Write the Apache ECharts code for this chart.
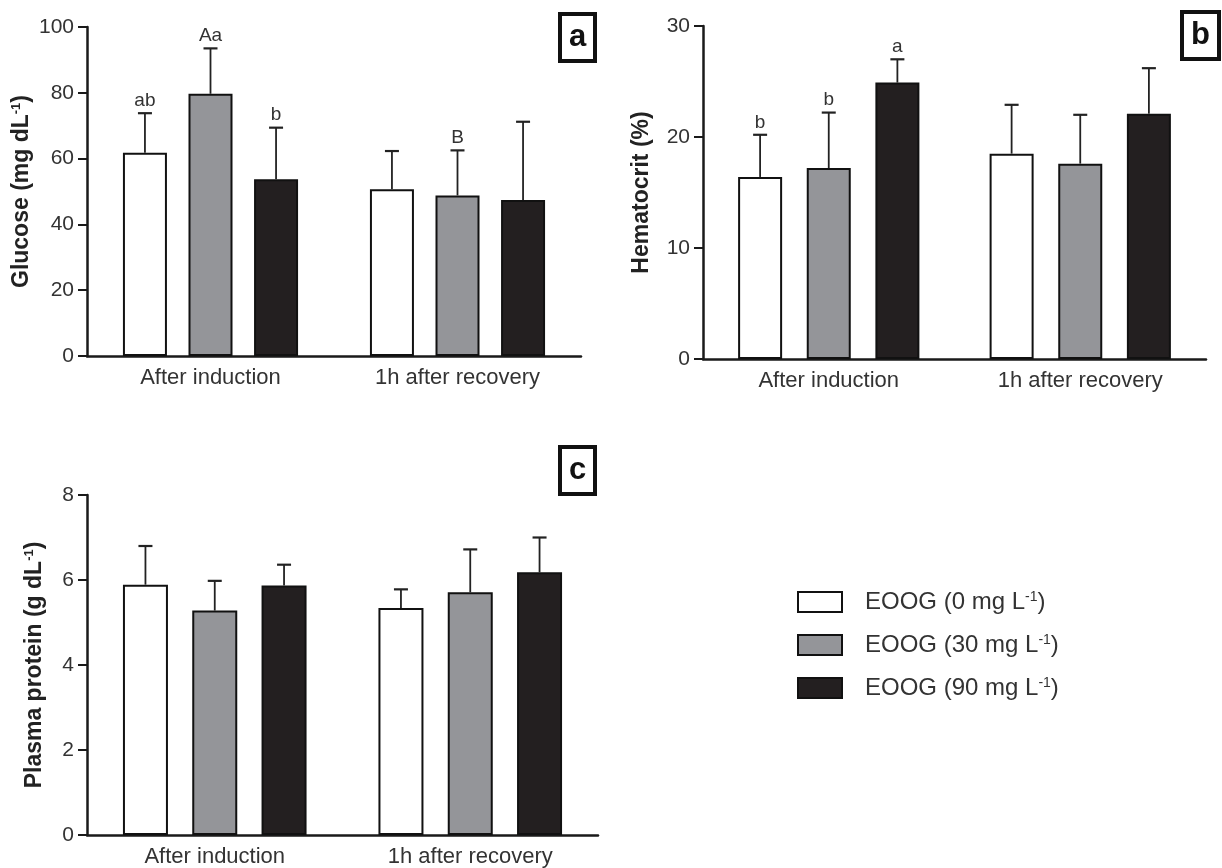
<!DOCTYPE html>
<html><head><meta charset="utf-8">
<script src="https://cdn.jsdelivr.net/npm/echarts@6/dist/echarts.min.js"></script>
<style>html,body{margin:0;padding:0;background:#fff}#c{width:1222px;height:868px}</style>
</head><body><div id="c"></div>
<script>
// ---------------- data ----------------
const categories = ['After induction', '1h after recovery'];
const groupNames = ['EOOG (0 mg L-1)', 'EOOG (30 mg L-1)', 'EOOG (90 mg L-1)'];

const glucoseTicks = [0, 20, 40, 60, 80, 100];
const glucose0 = [61.8, 50.7];
const glucose30 = [79.7, 48.8];
const glucose90 = [53.7, 47.4];
const glucose0Sd = [12.0, 11.6];
const glucose30Sd = [13.8, 13.7];
const glucose90Sd = [15.7, 23.8];
const glucose0Letters = ['ab', ''];
const glucose30Letters = ['Aa', 'B'];
const glucose90Letters = ['b', ''];

const hematocritTicks = [0, 10, 20, 30];
const hematocrit0 = [16.4, 18.5];
const hematocrit30 = [17.2, 17.6];
const hematocrit90 = [24.9, 22.1];
const hematocrit0Sd = [3.8, 4.4];
const hematocrit30Sd = [5.0, 4.4];
const hematocrit90Sd = [2.1, 4.1];
const hematocrit0Letters = ['b', ''];
const hematocrit30Letters = ['b', ''];
const hematocrit90Letters = ['a', ''];

const proteinTicks = [0, 2, 4, 6, 8];
const protein0 = [5.89, 5.34];
const protein30 = [5.28, 5.71];
const protein90 = [5.87, 6.18];
const protein0Sd = [0.91, 0.44];
const protein30Sd = [0.70, 1.01];
const protein90Sd = [0.49, 0.82];

// ---------------- style / layout ----------------
const FONT = '"Liberation Sans", Arial, Helvetica, sans-serif';
const fills = ['#ffffff', '#949599', '#231f20'];
const INK = '#1a1a1a';

const panels = [
  { grid: {left: 87, top: 27, width: 494, height: 329}, ticks: glucoseTicks,
    means: [glucose0, glucose30, glucose90], sds: [glucose0Sd, glucose30Sd, glucose90Sd],
    letters: [glucose0Letters, glucose30Letters, glucose90Letters],
    name: '{n|Glucose (mg dL}{s|-1}{n|)}', nameGap: 54, barW: 44, gap: 0.49 },
  { grid: {left: 703, top: 26, width: 503, height: 333}, ticks: hematocritTicks,
    means: [hematocrit0, hematocrit30, hematocrit90], sds: [hematocrit0Sd, hematocrit30Sd, hematocrit90Sd],
    letters: [hematocrit0Letters, hematocrit30Letters, hematocrit90Letters],
    name: '{n|Hematocrit (%)}', nameGap: 50, barW: 44, gap: 0.56 },
  { grid: {left: 87, top: 495, width: 511, height: 340}, ticks: proteinTicks,
    means: [protein0, protein30, protein90], sds: [protein0Sd, protein30Sd, protein90Sd],
    letters: null,
    name: '{n|Plasma protein (g dL}{s|-1}{n|)}', nameGap: 41, barW: 45, gap: 0.54 }
];

const grids = [], xAxes = [], yAxes = [], series = [];

panels.forEach((p, gi) => {
  grids.push(Object.assign({containLabel: false}, p.grid));
  xAxes.push({
    type: 'category', gridIndex: gi, data: categories,
    axisLine: {lineStyle: {color: INK, width: 2.5}},
    axisTick: {show: false},
    axisLabel: {fontSize: 22, color: '#333', fontFamily: FONT, margin: 11}
  });
  yAxes.push({
    type: 'value', gridIndex: gi,
    min: p.ticks[0], max: p.ticks[p.ticks.length - 1], interval: p.ticks[1] - p.ticks[0],
    axisLine: {show: true, lineStyle: {color: INK, width: 2.5}},
    axisTick: {show: true, length: 9, lineStyle: {color: INK, width: 2}},
    axisLabel: {fontSize: 21, color: '#333', fontFamily: FONT, margin: 13},
    splitLine: {show: false},
    name: p.name, nameLocation: 'middle', nameRotate: 90, nameGap: p.nameGap,
    nameTextStyle: {
      rich: {
        n: {fontSize: 23, fontWeight: 'bold', color: '#222', fontFamily: FONT},
        s: {fontSize: 13, fontWeight: 'bold', color: '#222', fontFamily: FONT, verticalAlign: 'top'}
      }
    }
  });
  p.means.forEach((m, s) => {
    series.push({
      type: 'bar', name: groupNames[s], xAxisIndex: gi, yAxisIndex: gi,
      data: m, barWidth: p.barW, barGap: (p.gap * 100) + '%',
      itemStyle: {color: fills[s], borderColor: '#111', borderWidth: 2},
      emphasis: {disabled: true}
    });
  });
  const data = [];
  p.means.forEach((arr, s) => arr.forEach((m, c) => data.push([c, s, m, m + p.sds[s][c]])));
  const letters = p.letters, gap = p.gap;
  series.push({
    type: 'custom', xAxisIndex: gi, yAxisIndex: gi, z: 5, silent: true,
    data: data, encode: {x: 0, y: 3},
    renderItem: function (params, api) {
      const c = api.value(0), s = api.value(1);
      const base = api.coord([c, api.value(2)]);
      const top = api.coord([c, api.value(3)]);
      const step = p.barW * (1 + gap);
      const x = base[0] + (s - 1) * step;
      const children = [
        {type: 'line', shape: {x1: x, y1: base[1], x2: x, y2: top[1]}, style: {stroke: '#222', lineWidth: 1.8}},
        {type: 'line', shape: {x1: x - 7, y1: top[1], x2: x + 7, y2: top[1]}, style: {stroke: '#222', lineWidth: 2.2}}
      ];
      const lab = letters ? letters[s][c] : '';
      if (lab) {
        children.push({type: 'text', style: {text: lab, x: x, y: top[1] - 3, align: 'center', verticalAlign: 'bottom',
          fontSize: 19, fontFamily: FONT, fill: '#333'}});
      }
      return {type: 'group', children: children};
    }
  });
});

const boxTitle = (t, left, top) => ({
  text: t, left: left, top: top,
  padding: [8, 9, 8, 9], borderColor: '#111', borderWidth: 4, backgroundColor: '#fff',
  textStyle: {fontSize: 31, fontWeight: 'bold', color: '#111', fontFamily: FONT}
});

const option = {
  animation: false,
  backgroundColor: '#fff',
  title: [boxTitle('a', 560, 14), boxTitle('b', 1182, 12), boxTitle('c', 560, 447)],
  legend: {
    orient: 'vertical', left: 797, top: 590, padding: 0,
    itemWidth: 44, itemHeight: 20, itemGap: 19, icon: 'rect',
    selectedMode: false,
    data: groupNames.map((n, i) => ({name: n, itemStyle: {color: fills[i], borderColor: '#111', borderWidth: 2}})),
    formatter: function (name) {
      const m = name.match(/^(.*)-1\)$/);
      return '{n|' + m[1] + '}{s|-1}{n|)}';
    },
    textStyle: {
      padding: [0, 0, 0, 18],
      rich: {
        n: {fontSize: 24, color: '#333', fontFamily: FONT},
        s: {fontSize: 14, color: '#333', fontFamily: FONT, verticalAlign: 'top'}
      }
    }
  },
  grid: grids, xAxis: xAxes, yAxis: yAxes, series: series
};

const chart = echarts.init(document.getElementById('c'), null, {renderer: 'canvas'});
chart.setOption(option);
</script>
</body></html>
